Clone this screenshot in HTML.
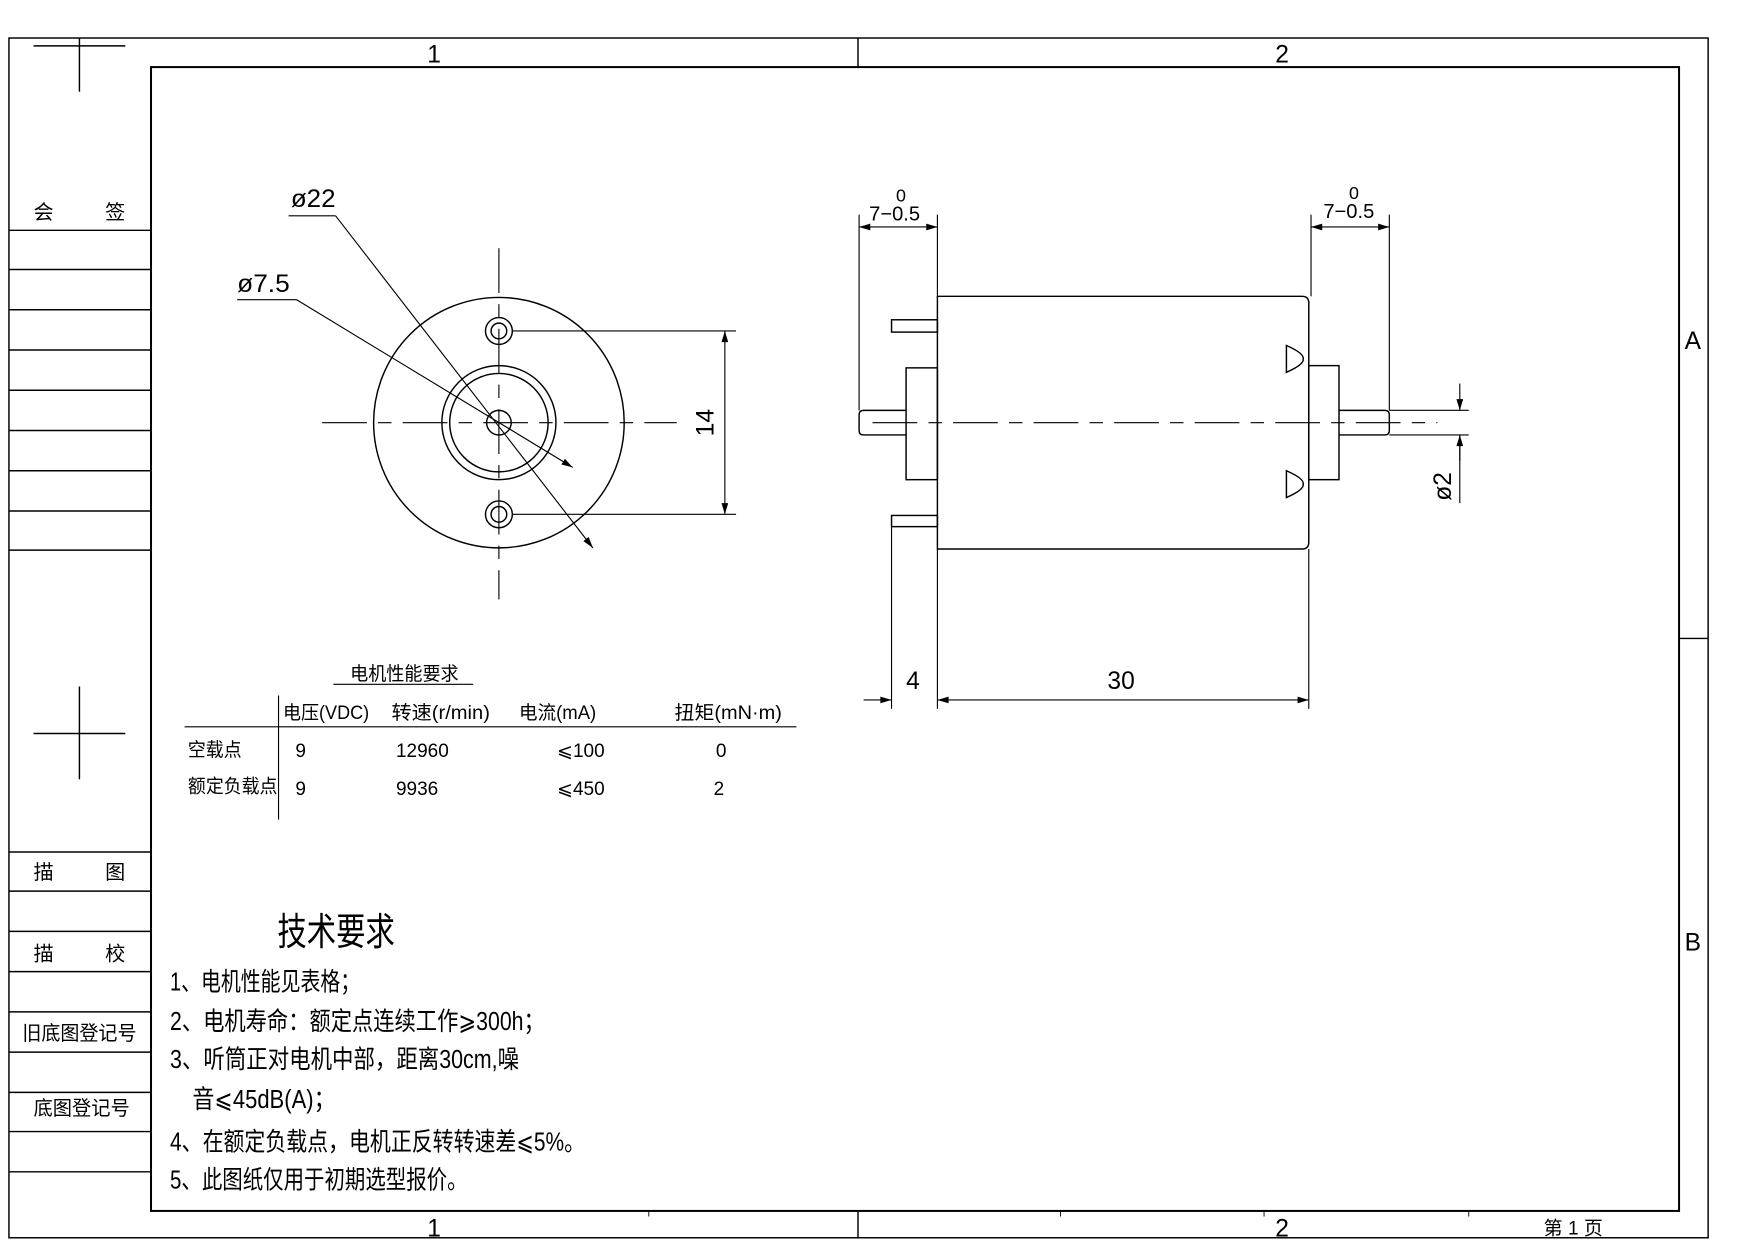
<!DOCTYPE html>
<html><head><meta charset="utf-8"><style>html,body{margin:0;padding:0;background:#fff}svg{display:block}</style></head><body>
<svg width="1754" height="1240" viewBox="0 0 1568 1109" preserveAspectRatio="none" xmlns="http://www.w3.org/2000/svg" font-family="'Liberation Sans','Noto Sans CJK SC',sans-serif" fill="none" stroke="#000" stroke-width="1.3">
<defs><marker id="a" viewBox="0 0 10 6" refX="10" refY="3" markerWidth="12" markerHeight="6" orient="auto-start-reverse" markerUnits="userSpaceOnUse"><path d="M0,0L10,3L0,6z" fill="#000" stroke="none"/></marker></defs>
<rect x="8" y="34" width="1519" height="1073"/>
<rect x="135" y="60" width="1366" height="1023" stroke-width="1.8"/>
<line x1="767" y1="34" x2="767" y2="60"/><line x1="767" y1="1083" x2="767" y2="1107"/>
<line x1="1501" y1="571" x2="1527" y2="571"/>
<g stroke-width="0.8"><line x1="580" y1="1083" x2="580" y2="1088"/><line x1="948" y1="1083" x2="948" y2="1088"/><line x1="1130" y1="1083" x2="1130" y2="1088"/><line x1="1313" y1="1083" x2="1313" y2="1088"/></g>
<line x1="30" y1="41" x2="112" y2="41"/><line x1="71" y1="34" x2="71" y2="82"/>
<line x1="30" y1="656" x2="112" y2="656"/><line x1="71" y1="614" x2="71" y2="697"/>
<g>
<line x1="8" y1="206" x2="135" y2="206"/><line x1="8" y1="241" x2="135" y2="241"/><line x1="8" y1="277" x2="135" y2="277"/><line x1="8" y1="313" x2="135" y2="313"/><line x1="8" y1="349" x2="135" y2="349"/><line x1="8" y1="385" x2="135" y2="385"/><line x1="8" y1="421" x2="135" y2="421"/><line x1="8" y1="457" x2="135" y2="457"/><line x1="8" y1="492" x2="135" y2="492"/>
<line x1="8" y1="762" x2="135" y2="762"/><line x1="8" y1="797" x2="135" y2="797"/><line x1="8" y1="833" x2="135" y2="833"/><line x1="8" y1="869" x2="135" y2="869"/><line x1="8" y1="905" x2="135" y2="905"/><line x1="8" y1="941" x2="135" y2="941"/><line x1="8" y1="977" x2="135" y2="977"/><line x1="8" y1="1012" x2="135" y2="1012"/><line x1="8" y1="1048" x2="135" y2="1048"/>
</g>
<circle cx="446" cy="378" r="112"/>
<circle cx="446" cy="378" r="51"/><circle cx="446" cy="378" r="44"/><circle cx="446" cy="378" r="11"/>
<circle cx="446" cy="296" r="12"/><circle cx="446" cy="296" r="7"/>
<circle cx="446" cy="460" r="12"/><circle cx="446" cy="460" r="7"/>
<line x1="288" y1="378" x2="605" y2="378" stroke-dasharray="40,10,12,10" stroke-width="1"/>
<line x1="446" y1="222" x2="446" y2="536" stroke-dasharray="40,10,12,10" stroke-width="1"/>
<line x1="458" y1="296" x2="658" y2="296" stroke-width="1"/><line x1="458" y1="460" x2="658" y2="460" stroke-width="1"/>
<line x1="648" y1="296" x2="648" y2="460" marker-start="url(#a)" marker-end="url(#a)" stroke-width="1"/>
<line x1="258" y1="193" x2="300" y2="193" stroke-width="1"/><line x1="300" y1="193" x2="530" y2="490" marker-end="url(#a)" stroke-width="1"/>
<line x1="212" y1="268" x2="265" y2="268" stroke-width="1"/><line x1="265" y1="268" x2="512" y2="418" marker-end="url(#a)" stroke-width="1"/>
<path d="M838,265H1164Q1170,265 1170,271V485Q1170,491 1164,491H838Z"/>
<rect x="810" y="329" width="28" height="100"/>
<rect x="1170" y="327" width="27" height="102"/>
<path d="M810,367H772Q768,367 768,371V385Q768,389 772,389H810"/>
<path d="M1197,367H1238Q1242,367 1242,371V385Q1242,389 1238,389H1197"/>
<rect x="797" y="286" width="41" height="11"/><rect x="797" y="461" width="41" height="10"/>
<path d="M1150,309L1150,333Q1166,326 1165,321Q1166,316 1150,309Z"/>
<path d="M1150,421L1150,445Q1166,438 1165,433Q1166,428 1150,421Z"/>
<line x1="780" y1="378" x2="1285" y2="378" stroke-dasharray="40,10,12,10" stroke-width="1"/>
<g stroke-width="1">
<line x1="768" y1="192" x2="768" y2="367"/><line x1="838" y1="192" x2="838" y2="265"/>
<line x1="768" y1="203" x2="838" y2="203" marker-start="url(#a)" marker-end="url(#a)"/>
<line x1="1172" y1="192" x2="1172" y2="265"/><line x1="1242" y1="192" x2="1242" y2="367"/>
<line x1="1172" y1="203" x2="1242" y2="203" marker-start="url(#a)" marker-end="url(#a)"/>
<line x1="1242" y1="367" x2="1313" y2="367"/><line x1="1242" y1="389" x2="1313" y2="389"/>
<line x1="1305" y1="343" x2="1305" y2="367" marker-end="url(#a)"/><line x1="1305" y1="389" x2="1305" y2="450"/>
<line x1="1305" y1="412" x2="1305" y2="389" marker-end="url(#a)"/>
<line x1="797" y1="471" x2="797" y2="634"/><line x1="838" y1="491" x2="838" y2="634"/><line x1="1170" y1="491" x2="1170" y2="634"/>
<line x1="772" y1="626" x2="797" y2="626" marker-end="url(#a)"/>
<line x1="838" y1="626" x2="1170" y2="626" marker-start="url(#a)" marker-end="url(#a)"/>
<line x1="298" y1="612" x2="423" y2="612"/>
<line x1="165" y1="650" x2="712" y2="650"/>
<line x1="249" y1="622" x2="249" y2="733"/>
</g>
<g fill="#000" stroke="none" font-size="22">
<text x="382" y="56">1</text><text x="1140" y="56">2</text>
<text x="382" y="1106">1</text><text x="1140" y="1106">2</text>
<text x="1506" y="312">A</text><text x="1506" y="850">B</text>
<text x="260" y="185" textLength="40" lengthAdjust="spacingAndGlyphs">ø22</text><text x="212" y="261" textLength="47" lengthAdjust="spacingAndGlyphs">ø7.5</text>
<text x="0" y="0" transform="translate(638,378) rotate(-90)" text-anchor="middle">14</text>
<text x="0" y="0" transform="translate(1297,435) rotate(-90)" text-anchor="middle">ø2</text>
<text x="777" y="197" font-size="18">7−0.5</text><text x="801" y="180" font-size="16">0</text>
<text x="1183" y="195" font-size="18">7−0.5</text><text x="1206" y="178" font-size="16">0</text>
<text x="810" y="616">4</text><text x="990" y="616">30</text>
<g font-size="18"><text x="30" y="196">会</text><text x="94" y="196">签</text>
<text x="30" y="786">描</text><text x="94" y="786">图</text>
<text x="30" y="859">描</text><text x="94" y="859">校</text>
<text x="20" y="930" textLength="102" lengthAdjust="spacingAndGlyphs">旧底图登记号</text><text x="30" y="997" textLength="86" lengthAdjust="spacingAndGlyphs">底图登记号</text></g>
<g font-size="17" lengthAdjust="spacingAndGlyphs"><text x="313" y="608" textLength="97" lengthAdjust="spacingAndGlyphs">电机性能要求</text>
<text x="253" y="643" textLength="77" lengthAdjust="spacingAndGlyphs">电压(VDC)</text><text x="350" y="643" textLength="88" lengthAdjust="spacingAndGlyphs">转速(r/min)</text><text x="464" y="643" textLength="69" lengthAdjust="spacingAndGlyphs">电流(mA)</text><text x="603" y="643" textLength="96" lengthAdjust="spacingAndGlyphs">扭矩(mN·m)</text>
<text x="168" y="676" textLength="48" lengthAdjust="spacingAndGlyphs">空载点</text><text x="264" y="677">9</text><text x="354" y="677">12960</text><text x="498" y="677">⩽100</text><text x="640" y="677">0</text>
<text x="168" y="709" textLength="80" lengthAdjust="spacingAndGlyphs">额定负载点</text><text x="264" y="711">9</text><text x="354" y="711">9936</text><text x="498" y="711">⩽450</text><text x="638" y="711">2</text></g>
<text x="248" y="845" font-size="34" textLength="105" lengthAdjust="spacingAndGlyphs">技术要求</text>
<g font-size="23"><text x="152" y="886" textLength="170" lengthAdjust="spacingAndGlyphs">1、电机性能见表格；</text>
<text x="152" y="921" textLength="335" lengthAdjust="spacingAndGlyphs">2、电机寿命：额定点连续工作⩾300h；</text>
<text x="152" y="955" textLength="312" lengthAdjust="spacingAndGlyphs">3、听筒正对电机中部，距离30cm,噪</text>
<text x="172" y="991" textLength="128" lengthAdjust="spacingAndGlyphs">音⩽45dB(A)；</text>
<text x="152" y="1029" textLength="371" lengthAdjust="spacingAndGlyphs">4、在额定负载点，电机正反转转速差⩽5%。</text>
<text x="152" y="1063" textLength="266" lengthAdjust="spacingAndGlyphs">5、此图纸仅用于初期选型报价。</text></g>
<text x="1380" y="1104" font-size="17">第 1 页</text>
</g>
</svg>
</body></html>
